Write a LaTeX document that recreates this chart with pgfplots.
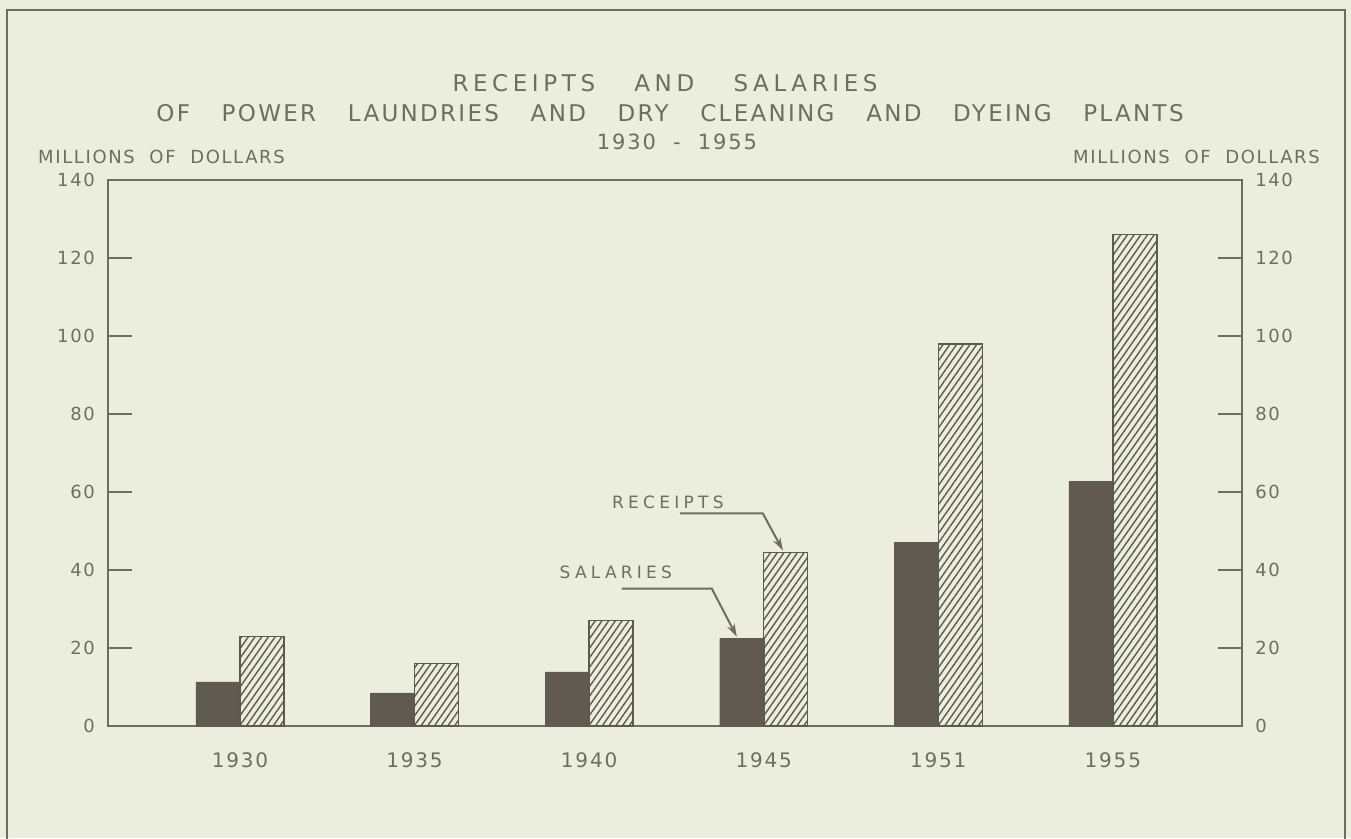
\documentclass[border=0pt]{standalone}
\usepackage{fontspec}
\setmainfont{DejaVu Sans}[LetterSpace=9, WordSpace=2]
\newfontfamily\titlefontA{DejaVu Sans}[LetterSpace=20, WordSpace=3.3]
\newfontfamily\titlefont{DejaVu Sans}[LetterSpace=10, WordSpace=3.3]
\newfontfamily\notefont{DejaVu Sans}[LetterSpace=25, WordSpace=2]
\usepackage{pgfplots}
\pgfplotsset{compat=1.18}
\usetikzlibrary{patterns.meta,arrows.meta}

\definecolor{paper}{RGB}{235,238,220}
\definecolor{ink}{RGB}{110,110,96}
\definecolor{darkbar}{RGB}{96,90,82}
\definecolor{hatch}{RGB}{92,90,80}

% values in millions of dollars
\pgfplotstableread{
x sal rec
0 11.3 23.0
1 8.5 16.0
2 13.9 27.0
3 22.4 44.5
4 47.0 98.0
5 62.7 126.0
}\data

\begin{document}
\begin{tikzpicture}
\fill[paper] (0pt,0pt) rectangle (1351pt,838pt);
\useasboundingbox (0pt,0pt) rectangle (1351pt,838pt);
\draw[ink, line width=2.5pt] (7pt,-5pt) -- (7pt,828pt) -- (1345pt,828pt) -- (1345pt,-5pt);

% titles
\node[ink, anchor=base, inner sep=0pt, font=\titlefontA\fontsize{23}{23}\selectfont] at (665pt,746.6pt) {RECEIPTS AND SALARIES};
\node[ink, anchor=base, inner sep=0pt, font=\titlefont\fontsize{23}{23}\selectfont] at (670pt,716.6pt) {OF POWER LAUNDRIES AND DRY CLEANING AND DYEING PLANTS};
\node[ink, anchor=base, inner sep=0pt, font=\fontsize{21}{21}\selectfont] at (677pt,688pt) {1930 - 1955};
\node[ink, anchor=base west, inner sep=0pt, font=\fontsize{18}{18}\selectfont] at (38pt,674.5pt) {MILLIONS OF DOLLARS};
\node[ink, anchor=base east, inner sep=0pt, font=\fontsize{18}{18}\selectfont] at (1320pt,674.5pt) {MILLIONS OF DOLLARS};

\begin{axis}[
    scale only axis,
    width=1134pt, height=546pt,
    anchor=south west, at={(108pt,112pt)},
    xmin=-0.756, xmax=5.74,
    ymin=0, ymax=140,
    ybar=0pt, bar width=44pt,
    xtick={0,...,5},
    xticklabels={1930,1935,1940,1945,1951,1955},
    major x tick style={draw=none},
    ytick={0,20,...,140},
    yticklabel pos=left,
    tick align=inside,
    major tick length=24pt,
    axis line style={ink, line width=1.5pt},
    y tick style={ink, line width=1.3pt},
    /pgf/number format/assume math mode=true,
    y tick label style={ink, inner sep=0pt, xshift=-13pt, font=\fontsize{18}{18}\selectfont},
    x tick label style={ink, inner sep=0pt, yshift=-26pt, font=\fontsize{20}{20}\selectfont},
]
\addplot[fill=darkbar, draw=darkbar] table[x=x, y=sal]{\data};
\addplot[draw=hatch, line width=1.5pt,
    pattern={Lines[angle=55, distance=5.5pt, line width=1.4pt]}, pattern color=hatch]
    table[x=x, y=rec]{\data};

% leader arrows
\node[ink, inner sep=0pt, font=\notefont\fontsize{17}{17}\selectfont] at (axis cs:2.451,57.3) {RECEIPTS};
\draw[ink, line width=2pt, -{Stealth[length=13pt, width=8pt]}]
    (axis cs:2.52,54.5) -- (axis cs:2.995,54.5) -- (axis cs:3.11,45.0);
\node[ink, inner sep=0pt, font=\notefont\fontsize{17}{17}\selectfont] at (axis cs:2.153,39.3) {SALARIES};
\draw[ink, line width=2pt, -{Stealth[length=13pt, width=8pt]}]
    (axis cs:2.188,35.2) -- (axis cs:2.703,35.2) -- (axis cs:2.846,22.9);
\end{axis}

\begin{axis}[
    scale only axis,
    width=1134pt, height=546pt,
    anchor=south west, at={(108pt,112pt)},
    xmin=-0.756, xmax=5.74,
    ymin=0, ymax=140,
    hide x axis,
    axis y line*=right,
    y axis line style={draw=none},
    ytick={0,20,...,140},
    major tick length=0pt,
    /pgf/number format/assume math mode=true,
    y tick label style={ink, inner sep=0pt, xshift=13pt, font=\fontsize{18}{18}\selectfont},
]
\end{axis}
\end{tikzpicture}
\end{document}
